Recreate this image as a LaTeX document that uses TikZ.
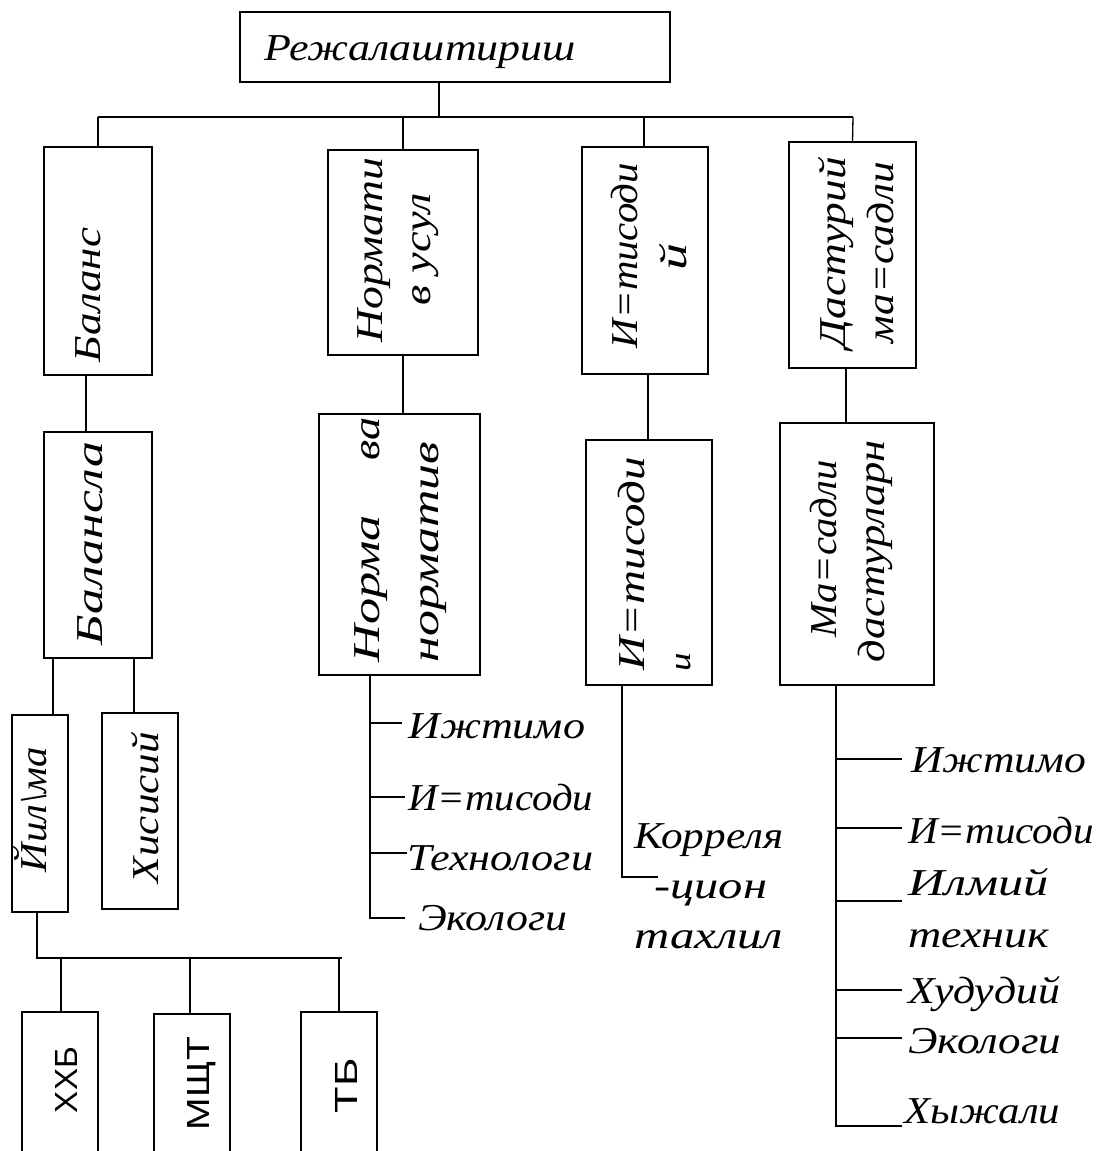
\documentclass[tikz,border=0pt]{standalone}
\usepackage{fontspec}
\usepackage{graphicx}
\newfontfamily\handfont{Liberation Serif}
\newfontfamily\plainsans{Liberation Sans}
\newcommand{\tw}[2]{\resizebox{#1pt}{\height}{#2}}
\tikzset{
  box/.style={draw, line width=1.3pt, inner sep=0pt},
  conn/.style={line width=1.3pt},
  lab/.style={inner sep=0pt, anchor=base west, font=\handfont\itshape\fontsize{38}{44}\selectfont},
  rlab/.style={inner sep=0pt, anchor=base, rotate=90, font=\handfont\itshape\fontsize{38}{44}\selectfont},
  slab/.style={inner sep=0pt, anchor=base, rotate=90, font=\plainsans\fontsize{32}{38}\selectfont}
}
\begin{document}
\begin{tikzpicture}[x=1pt,y=-1pt]
\useasboundingbox (0,0) rectangle (1096,1151);
% boxes
\node[box, minimum width=430pt, minimum height=70pt] (top) at (455,47) {};
\node[box, minimum width=108pt, minimum height=228pt] (bal) at (98,261) {};
\node[box, minimum width=150pt, minimum height=205pt] (norm1) at (403,252.5) {};
\node[box, minimum width=126pt, minimum height=227pt] (iqt1) at (645,260.5) {};
\node[box, minimum width=127pt, minimum height=226pt] (dast1) at (852.5,255) {};
\node[box, minimum width=108pt, minimum height=226pt] (bal2) at (98,545) {};
\node[box, minimum width=161pt, minimum height=261pt] (norm2) at (399.5,544.5) {};
\node[box, minimum width=126pt, minimum height=245pt] (iqt2) at (649,562.5) {};
\node[box, minimum width=154pt, minimum height=262pt] (dast2) at (857,554) {};
\node[box, minimum width=56pt, minimum height=197pt] (yil) at (40,813.5) {};
\node[box, minimum width=76pt, minimum height=196pt] (his) at (140,811) {};
\node[box, minimum width=76pt, minimum height=148pt] (xxb) at (60,1086) {};
\node[box, minimum width=76pt, minimum height=146pt] (msht) at (192,1087) {};
\node[box, minimum width=76pt, minimum height=148pt] (tb) at (339,1086) {};
% box texts
\node[lab] (tTop) at (264,60) {\tw{312}{Режалаштириш}};
\node[rlab] (tBal) at (100,295) {\tw{134}{Баланс}};
\node[rlab] (tN1a) at (382,250) {\tw{184}{Нормати}};
\node[rlab] (tN1b) at (430,249) {\tw{112}{в усул}};
\node[rlab] (tI1a) at (637,255.5) {\tw{185}{И=тисоди}};
\node[rlab] (tI1b) at (686,256.5) {\tw{27}{й}};
\node[rlab] (tD1a) at (845,252.5) {\tw{191}{Дастурий}};
\node[rlab] (tD1b) at (893,252.5) {\tw{181}{ма=садли}};
\node[rlab] (tBal2) at (102,543.5) {\tw{203}{Балансла}};
\node[rlab] (tN2a) at (379,588.5) {\tw{147}{Норма}};
\node[rlab] (tN2b) at (379,438.5) {\tw{43}{ва}};
\node[rlab] (tN2c) at (438,552) {\tw{220}{норматив}};
\node[rlab] (tI2) at (644,563.5) {\tw{213}{И=тисоди}};
\begin{scope}
  \clip (676,650) rectangle (694,669);
  \node[rlab] (tI2b) at (690,662) {й};
\end{scope}
\node[rlab] (tD2a) at (836,548.5) {\tw{177}{Ма=садли}};
\node[rlab] (tD2b) at (884,551) {\tw{222}{дастурларн}};
\node[rlab] (tYil) at (46,809.5) {\tw{125}{Йил\textbackslash ма}};
\node[rlab] (tHis) at (158,807.5) {\tw{151}{Хисисий}};
\node[slab] (tXXB) at (77,1080) {\tw{66}{ХХБ}};
\node[slab] (tMSHT) at (209,1083.5) {\tw{93}{МЩТ}};
\node[slab] (tTB) at (357,1085.5) {\tw{55}{ТБ}};
% top level connectors
\coordinate (busL) at (98,117);
\coordinate (busR) at (853,117);
\draw[conn] (top.south -| 439,0) -- (439,117);
\draw[conn] (busL) -- (busR);
\draw[conn] (busL) -- (bal.north);
\draw[conn] (403,117) -- (norm1.north);
\draw[conn] (644,117) -- (iqt1.north -| 644,0);
\draw[conn] (busR) -- (dast1.north);
\draw[conn] (bal.south -| 86,0) -- (bal2.north -| 86,0);
\draw[conn] (norm1.south) -- (norm2.north -| 403,0);
\draw[conn] (iqt1.south -| 648,0) -- (iqt2.north -| 648,0);
\draw[conn] (dast1.south -| 846,0) -- (dast2.north -| 846,0);
\draw[conn] (bal2.south -| 53,0) -- (yil.north -| 53,0);
\draw[conn] (bal2.south -| 134,0) -- (his.north -| 134,0);
% bottom-left bus
\coordinate (bus2L) at (37,958);
\coordinate (bus2R) at (342,958);
\draw[conn] (yil.south -| 37,0) -- (bus2L) -- (bus2R);
\draw[conn] (61,958) -- (xxb.north -| 61,0);
\draw[conn] (190,958) -- (msht.north -| 190,0);
\draw[conn] (339,958) -- (tb.north);
% norm2 branches
\node[lab] (nb1) at (408,738) {\tw{177}{Ижтимо}};
\node[lab] (nb2) at (408,810) {\tw{185}{И=тисоди}};
\node[lab] (nb3) at (407,870) {\tw{186}{Технологи}};
\node[lab] (nb4) at (418,930) {\tw{149}{Экологи}};
\draw[conn] (norm2.south -| 370,0) -- (370,918) -- (405,918);
\draw[conn] (370,723) -- (402,723);
\draw[conn] (370,797) -- (405,797);
\draw[conn] (370,853) -- (407,853);
% iqt2 branch
\node[lab] (ib1) at (634,848) {\tw{149}{Корреля}};
\node[lab] (ib2) at (654,898) {\tw{113}{-цион}};
\node[lab] (ib3) at (634,948) {\tw{149}{тахлил}};
\draw[conn] (iqt2.south -| 622,0) -- (622,877) -- (658,877);
% dast2 branches
\node[lab] (db1) at (911,772) {\tw{175}{Ижтимо}};
\node[lab] (db2) at (908,843) {\tw{186}{И=тисоди}};
\node[lab] (db3) at (908,895) {\tw{141}{Илмий}};
\node[lab] (db4) at (908,947) {\tw{141}{техник}};
\node[lab] (db5) at (908,1003) {\tw{152}{Худудий}};
\node[lab] (db6) at (908,1053) {\tw{153}{Экологи}};
\node[lab] (db7) at (904,1123) {\tw{156}{Хыжали}};
\draw[conn] (dast2.south -| 836,0) -- (836,1126) -- (902,1126);
\draw[conn] (836,759) -- (902,759);
\draw[conn] (836,828) -- (902,828);
\draw[conn] (836,901) -- (902,901);
\draw[conn] (836,990) -- (902,990);
\draw[conn] (836,1038) -- (902,1038);
\end{tikzpicture}
\end{document}
